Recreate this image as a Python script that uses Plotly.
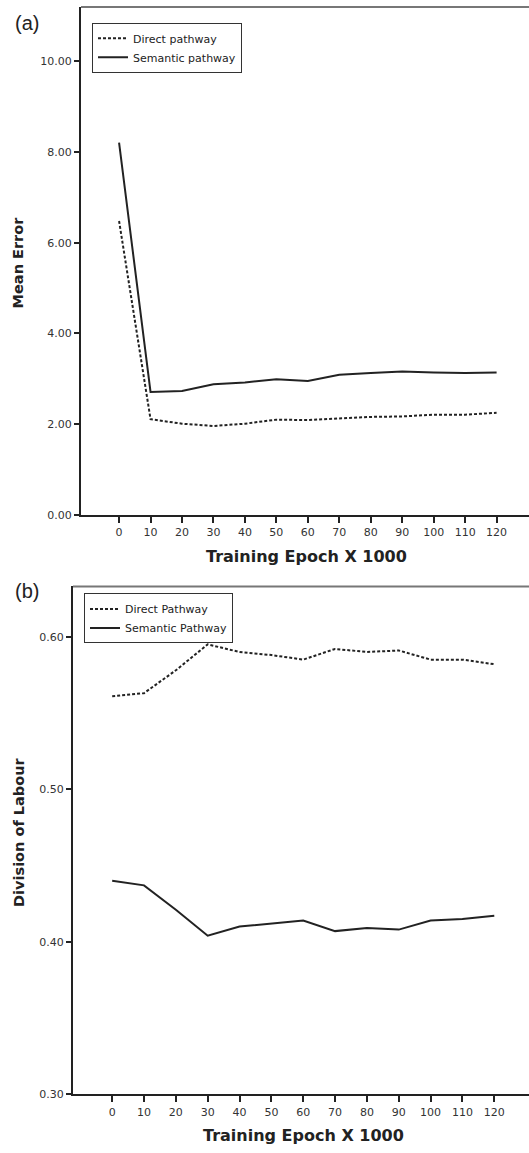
import plotly.graph_objects as go

# ---------------- data ----------------
epochs = [0, 10, 20, 30, 40, 50, 60, 70, 80, 90, 100, 110, 120]
x_tick_labels = ["0", "10", "20", "30", "40", "50", "60", "70", "80", "90", "100", "110", "120"]

# panel (a): mean error
a_direct = [6.48, 2.11, 2.01, 1.96, 2.01, 2.10, 2.09, 2.12, 2.16, 2.17, 2.21, 2.21, 2.25]
a_semantic = [8.21, 2.71, 2.73, 2.88, 2.92, 2.99, 2.95, 3.09, 3.13, 3.16, 3.14, 3.13, 3.14]
a_yticks = [0, 2, 4, 6, 8, 10]

# panel (b): division of labour
b_direct = [0.561, 0.563, 0.578, 0.595, 0.590, 0.588, 0.585, 0.592, 0.590, 0.591, 0.585, 0.585, 0.582]
b_semantic = [0.440, 0.437, 0.421, 0.404, 0.410, 0.412, 0.414, 0.407, 0.409, 0.408, 0.414, 0.415, 0.417]
b_yticks = [0.30, 0.40, 0.50, 0.60]

# ---------------- layout helpers ----------------
W, H = 529, 1153
def px(x):
    return x / W
def py(y):
    return 1 - y / H

ink = "#222222"
dotted = "3px,2px"
font_fam = "DejaVu Sans, Verdana, sans-serif"

fig = go.Figure()

fig.add_trace(go.Scatter(x=epochs, y=a_direct, mode="lines", name="Direct pathway",
                         line=dict(color=ink, width=2, dash=dotted),
                         xaxis="x", yaxis="y", legend="legend"))
fig.add_trace(go.Scatter(x=epochs, y=a_semantic, mode="lines", name="Semantic pathway",
                         line=dict(color=ink, width=2),
                         xaxis="x", yaxis="y", legend="legend"))
fig.add_trace(go.Scatter(x=epochs, y=b_direct, mode="lines", name="Direct Pathway",
                         line=dict(color=ink, width=2, dash=dotted),
                         xaxis="x2", yaxis="y2", legend="legend2"))
fig.add_trace(go.Scatter(x=epochs, y=b_semantic, mode="lines", name="Semantic Pathway",
                         line=dict(color=ink, width=2),
                         xaxis="x2", yaxis="y2", legend="legend2"))

tickfont = dict(family=font_fam, size=11, color="#333333")
common_x = dict(tickmode="array", tickvals=epochs, ticktext=x_tick_labels,
                ticks="outside", ticklen=6, tickwidth=1.5, tickcolor=ink,
                showline=True, linecolor=ink, linewidth=2,
                showgrid=False, zeroline=False, tickfont=tickfont, fixedrange=True)
common_y = dict(tickmode="array", tickformat=".2f",
                ticks="outside", ticklen=5, tickwidth=1.5, tickcolor=ink,
                showline=True, linecolor=ink, linewidth=2,
                showgrid=False, zeroline=False, tickfont=tickfont, fixedrange=True)

legend_common = dict(bgcolor="white", bordercolor="#333333", borderwidth=1,
                     font=dict(family=font_fam, size=11, color=ink),
                     xanchor="left", yanchor="top", traceorder="normal",
                     itemwidth=30, tracegroupgap=0)

fig.update_layout(
    width=W, height=H,
    margin=dict(l=0, r=0, t=0, b=0),
    paper_bgcolor="white", plot_bgcolor="white",
    xaxis=dict(domain=[px(81), 1], range=[-12.1, 130.3], anchor="y", **common_x),
    yaxis=dict(domain=[py(518), py(7)], range=[0, 11.2], tickvals=a_yticks, anchor="x", **common_y),
    xaxis2=dict(domain=[px(73), 1], range=[-12.3, 130.9], anchor="y2", **common_x),
    yaxis2=dict(domain=[py(1101), py(590)], range=[0.30, 0.633], tickvals=b_yticks, anchor="x2", **common_y),
    legend=dict(x=px(92), y=py(23), **legend_common),
    legend2=dict(x=px(84), y=py(597), **legend_common),
    showlegend=True,
)

# top border lines of each panel
fig.add_shape(type="line", xref="x domain", yref="y domain", x0=0, x1=1, y0=1, y1=1,
              line=dict(color="#777777", width=2))
fig.add_shape(type="line", xref="x2 domain", yref="y2 domain", x0=0, x1=1, y0=1, y1=1,
              line=dict(color="#777777", width=2))

annos = [
    dict(text="<b>Training Epoch X 1000</b>", x=px(306), y=py(560), rot=0, size=16),
    dict(text="<b>Training Epoch X 1000</b>", x=px(303), y=py(1142), rot=0, size=16),
    dict(text="<b>Mean Error</b>", x=px(18), y=py(264), rot=-90, size=14.5),
    dict(text="<b>Division of Labour</b>", x=px(19), y=py(838), rot=-90, size=14.5),
]
for a in annos:
    fig.add_annotation(text=a["text"], x=a["x"], y=a["y"], xref="paper", yref="paper",
                       showarrow=False, textangle=a["rot"],
                       font=dict(family=font_fam, size=a["size"], color=ink),
                       xanchor="center", yanchor="middle")

for lab, yy in [("(a)", 23), ("(b)", 595)]:
    fig.add_annotation(text=lab, x=px(13), y=py(yy), xref="paper", yref="paper",
                       showarrow=False, xanchor="left", yanchor="middle",
                       font=dict(family="Liberation Sans, Arial, sans-serif", size=20, color=ink))

fig.write_html("out.html", config={"displayModeBar": False},
               post_script="document.body.style.margin='0';document.body.style.overflow='hidden';")
